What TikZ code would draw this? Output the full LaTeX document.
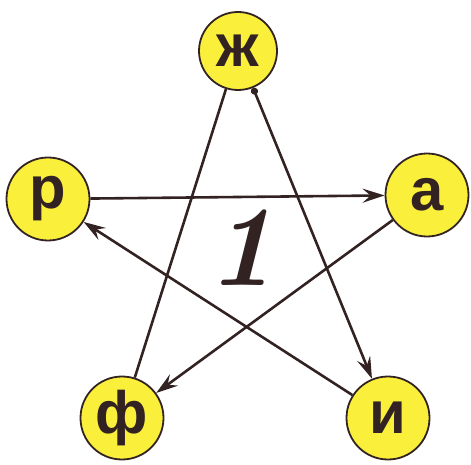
\documentclass[tikz,border=0pt]{standalone}
\usepackage{fontspec}
\newfontfamily\lettfont{Liberation Sans}
\usetikzlibrary{arrows.meta}
\definecolor{ink}{RGB}{50,34,34}
\definecolor{yel}{RGB}{250,240,60}
\tikzset{
  letter/.style={circle, draw=ink, line width=1.8pt, fill=yel, minimum size=83bp, inner sep=0pt, font=\lettfont\bfseries\fontsize{60}{60}\selectfont, text=ink},
  conn/.style={draw=ink, line width=2.6pt},
  tip/.style={-{Stealth[length=22bp,width=14bp,inset=8bp]}}
}
\begin{document}
\begin{tikzpicture}[x=1bp,y=-1bp]
\useasboundingbox (0,0) rectangle (471,465);
\node[letter, minimum size=78bp] (zh) at (238,51) {ж};
\node[letter] (r) at (48,199) {р};
\node[letter] (a) at (427,195) {а};
\node[letter] (f) at (122,418) {ф};
\node[letter] (i) at (388,418) {и};
\node[font=\fontsize{115}{115}\selectfont\bfseries\itshape, text=ink] (one) at (241,248) {1};
\draw[conn, tip] (r) -- (a);
\draw[conn, tip] (a) -- (f);
\draw[conn] (f) -- (zh);
\draw[conn, {Circle[length=7bp]}-{Stealth[length=22bp,width=14bp,inset=8bp]}] (zh) -- (i);
\draw[conn, tip] (i) -- (r);
\end{tikzpicture}
\end{document}
